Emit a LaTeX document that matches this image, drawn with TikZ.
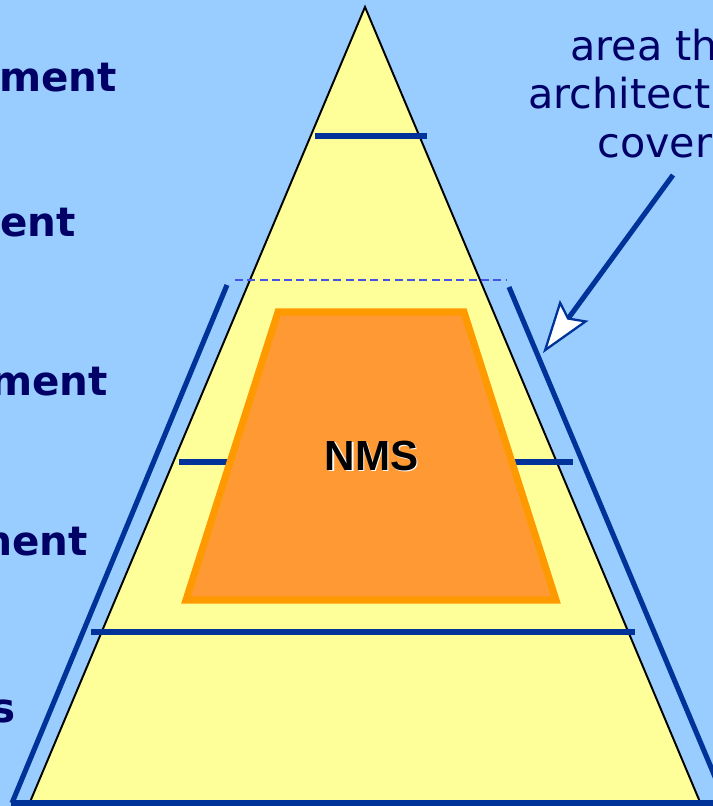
\documentclass[tikz,border=0pt]{standalone}
\usepackage{fontspec}
\setmainfont{DejaVu Sans}
\newfontfamily\nmsfont{Liberation Sans}
\usetikzlibrary{arrows.meta}

\definecolor{skyblue}{RGB}{153,204,255}
\definecolor{paleyellow}{RGB}{255,255,153}
\definecolor{layerblue}{RGB}{0,51,153}
\definecolor{navytext}{RGB}{0,0,102}
\definecolor{nmsedge}{RGB}{255,153,0}
\definecolor{nmsfill}{RGB}{255,153,51}
\definecolor{dashblue}{RGB}{68,84,230}

\tikzset{
  layerline/.style={layerblue, line width=2.9pt},
  layertext/.style={inner sep=0, text=navytext, font=\fontsize{23}{27}\selectfont\bfseries, anchor=base east},
  notetext/.style={inner sep=0, text=navytext, font=\fontsize{23.5}{28}\selectfont, anchor=base west}
}

\begin{document}
\begin{tikzpicture}[x=0.02cm, y=-0.02cm]
\useasboundingbox (0,0) rectangle (713,806);
\clip (0,0) rectangle (713,806);
\fill [skyblue] (0,0) rectangle (713,806);

% pyramid
\coordinate (apex) at (365,7);
\coordinate (baseL) at (30,802);
\coordinate (baseR) at (700,802);
\filldraw [fill=paleyellow, draw=black, line width=1.1pt, line join=miter] (apex) -- (baseL) -- (baseR) -- cycle;

% layer borders
\draw [layerline] (315,136) -- (427,136);
\draw [layerline] (179,462) -- (573,462);
\draw [layerline] (91,632) -- (635,632);
\draw [dashblue, line width=0.8pt, dash pattern=on 4.5pt off 2.5pt] (235,280) -- (507,280);

% NMS box
\filldraw [fill=nmsfill, draw=nmsedge, line width=4pt, line join=miter] (278,312) -- (464,312) -- (556,600) -- (186,600) -- cycle;
\node [inner sep=0, anchor=base, white, font=\nmsfont\fontsize{24}{28}\selectfont\bfseries] at (373,471.5) {NMS};
\node (nms) [inner sep=0, anchor=base, black, font=\nmsfont\fontsize{24}{28}\selectfont\bfseries] at (371.5,470) {NMS};

% covered area
\draw [layerline] (12,803) -- (227,285);
\draw [layerline] (509,287) -- (726,803);
\draw [layerline] (11,803) -- (713,803);

% labels
\node (l1) [layertext] at (117,91) {ment};
\node (l2) [layertext] at (76,236) {ent};
\node (l3) [layertext] at (108,395) {ment};
\node (l4) [layertext] at (88,555) {ment};
\node (l5) [layertext] at (16,722) {s};

\node (n1) [notetext] at (570,60) {area th};
\node (n2) [notetext] at (528,108) {architect};
\node (n3) [notetext] at (597,157) {cover};

\coordinate (ctail) at (673,175);
\coordinate (chead) at (543,353);
\draw [layerblue, line width=2.9pt, -{Stealth[length=30pt, width=20pt, inset=5pt, fill=white, line width=1.3pt]}] (ctail) -- (chead);
\end{tikzpicture}
\end{document}
